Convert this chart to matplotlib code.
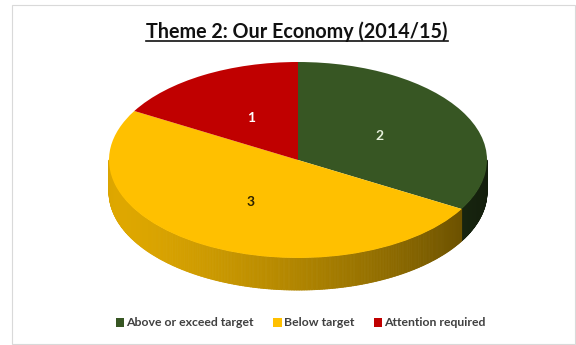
import numpy as np
import matplotlib
matplotlib.use('Agg')
import matplotlib.pyplot as plt
from matplotlib.collections import PolyCollection
from matplotlib.lines import Line2D
from matplotlib.patches import Rectangle
from matplotlib.colors import to_rgb

plt.rcParams['font.family'] = ['Lato', 'DejaVu Sans']

# --- data ---
categories = ['Above or exceed target', 'Below target', 'Attention required']
counts = [2, 3, 1]
colors = ['#375623', '#FFC000', '#C00000']
label_colors = ['#e6f0dc', '#2b2100', '#ffffff']
title = 'Theme 2: Our Economy (2014/15)'

W, H = 576, 345
fig = plt.figure(figsize=(W / 100, H / 100), dpi=100)
fig.patch.set_facecolor('white')
ax = fig.add_axes([0, 0, 1, 1])

# top face as a regular pie, flattened later by the axis scaling
total = sum(counts)
wedges, _, autotexts = ax.pie(
    counts, colors=colors, startangle=90, counterclock=False, radius=1.0,
    autopct=lambda p: f'{round(p * total / 100):d}', pctdistance=0.5,
    wedgeprops=dict(linewidth=0, zorder=3),
    textprops=dict(fontsize=10, fontweight='bold'))
for t, c in zip(autotexts, label_colors):
    t.set_color(c)
    t.set_zorder(5)

# extruded rim: only the front half (sin < 0) is visible
depth = 0.327
def shade(theta):
    return 0.60 + 0.27 * np.cos(np.radians(theta - 200))

polys, fcs = [], []
start = 90.0
for v, c in zip(counts, colors):
    sweep = 360.0 * v / total
    a0, a1 = start - sweep, start          # clockwise slice
    start -= sweep
    ts = np.linspace(a0, a1, max(int(sweep * 2), 2) + 1)
    base = np.array(to_rgb(c))
    for t0, t1 in zip(ts[:-1], ts[1:]):
        tm = (0.5 * (t0 + t1)) % 360
        if not (180 <= tm <= 360):
            continue
        r0, r1 = np.radians(t0), np.radians(t1)
        polys.append([(np.cos(r0), np.sin(r0)), (np.cos(r1), np.sin(r1)),
                      (np.cos(r1), np.sin(r1) - depth), (np.cos(r0), np.sin(r0) - depth)])
        fcs.append(np.clip(base * shade(tm), 0, 1))
ax.add_collection(PolyCollection(polys, facecolors=fcs, edgecolors=fcs, linewidths=0.6, zorder=2))

# pixel-based scaling: x unit = 189 px, y unit = 98 px, centre at (298, 160)
cx, cy, ax_px, by_px = 298, 160, 189, 98
ax.set_aspect('auto')
ax.set_xlim(-cx / ax_px, (W - cx) / ax_px)
ax.set_ylim(-(H - cy) / by_px, cy / by_px)
ax.axis('off')

# title with underline
tt = fig.text(297 / W, 1 - 32 / H, title, ha='center', va='center',
              fontsize=14.2, fontweight='bold', color='#111111')
fig.canvas.draw()
bb = tt.get_window_extent()
uy = bb.y0 + 1
fig.add_artist(Line2D([bb.x0 / W, bb.x1 / W], [uy / H, uy / H], color='#111111', lw=1.2))

ax.legend(wedges, categories, loc='center', bbox_to_anchor=(0.522, 1 - 323 / H), ncol=3,
          frameon=False, handlelength=0.7, handleheight=0.7,
          handletextpad=0.15, columnspacing=1.6, labelcolor='#404040',
          prop=dict(weight='bold', size=8.8))

# chart frame
fig.add_artist(Rectangle((12 / W, 1 / H), (W - 13) / W, (H - 6) / H, transform=fig.transFigure,
                         fill=False, edgecolor='#d9d9d9', lw=0.8))

fig.savefig('out.png', dpi=100)
